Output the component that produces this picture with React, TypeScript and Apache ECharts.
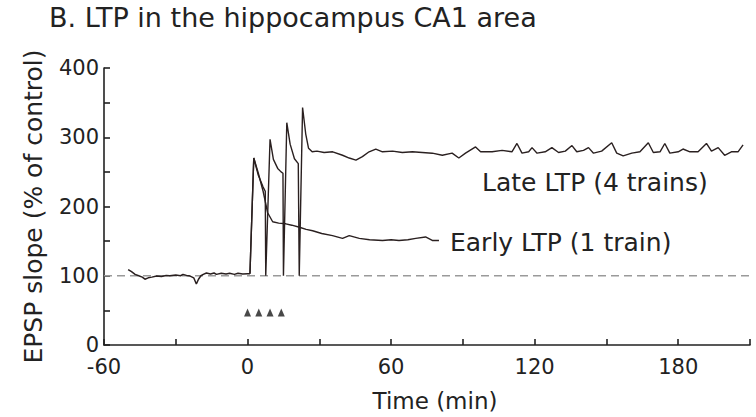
import React, { useEffect, useRef } from "react";
import * as echarts from "echarts";

// Time (min), EPSP slope (% of control)
const baselineTime = [-49.9, -48.5, -47, -45.5, -44, -42.9, -41.5, -40, -38, -36, -34, -32.5, -30, -28, -27, -25.5, -24, -22.5, -21.4, -20.5, -19.5, -18.5, -17.2, -15.5, -14, -13, -11, -9, -7.5, -5.5, -4, -2, 0, 1.0];
const baselineValue = [109, 106, 102, 100, 98, 95, 97, 98, 99.5, 99, 100.5, 100, 101, 100, 102, 100.5, 99.5, 97, 88, 95, 100, 102, 104, 102.5, 104, 102, 103.5, 102.5, 103.5, 102, 103.5, 102.5, 103, 103];

const earlyTime = [1.0, 2.6, 4.5, 6.5, 8.4, 10.5, 13, 16, 18.5, 21.7, 24.5, 27.2, 31, 35.5, 39.7, 42.5, 46.7, 51, 56.4, 60, 63.3, 67, 70.3, 74.4, 77.2, 80];
const earlyValue = [103, 270, 248, 222, 191, 178, 176, 175, 173, 170, 167, 165, 161, 158, 154, 158, 154, 152, 151, 152, 151, 152, 154, 156, 151, 151];

const lateTime = [1.0, 2.6, 4.5, 6.5, 7.4, 7.6, 7.8, 9.4, 10.8, 12.6, 14.0, 14.8, 15.0, 16.4, 17.8, 19.6, 21.2, 21.6, 21.8, 23.0, 24.3, 25.5, 27, 29, 32, 35.6, 39.7, 42.5, 45.3, 48, 50.8, 53.6, 56.4, 60.6, 64.7, 68.9, 73, 77.2, 81.4, 85.5, 88.3, 91.1, 95.3, 97.4, 102.2, 106.4, 110.5, 112.6, 114.7, 117.5, 118.9, 121, 124.4, 127.2, 130, 132.8, 135.6, 137.6, 140.4, 142.5, 144.6, 148, 152.2, 154.3, 157, 160.6, 164, 167.5, 169.6, 172.4, 174.4, 176.5, 180, 182, 184.9, 188.3, 191.8, 193.9, 196.7, 199.4, 202.2, 205, 207.1];
const lateValue = [103, 270, 245, 228, 222, 100, 100, 297, 268, 255, 250, 248, 100, 321, 290, 269, 262, 100, 100, 343, 305, 284, 279, 280, 278, 279, 274, 270, 267, 272, 279, 283, 279, 280, 278, 279, 278, 277, 274, 277, 270, 277, 286, 279, 279, 281, 279, 291, 277, 279, 285, 277, 279, 285, 278, 280, 288, 279, 281, 285, 277, 280, 292, 277, 273, 277, 279, 292, 278, 279, 291, 277, 279, 283, 279, 279, 291, 280, 285, 274, 279, 279, 289];

const controlLevel = [[-60, 100], [210, 100]];
const trainTimes = [0, 4.7, 9.4, 14.1];
const trainMarkerLevel = 47;

const xTickValues = [-60, 0, 60, 120, 180];
const yTickValues = [0, 100, 200, 300, 400];

const titleText = "B. LTP in the hippocampus CA1 area";
const lateLabel = "Late LTP (4 trains)";
const earlyLabel = "Early LTP (1 train)";

const FONT = "DejaVu Sans, Verdana, sans-serif";
const INK = "#2a2020";

export default function App() {
  const ref = useRef<HTMLDivElement>(null);
  useEffect(() => {
    if (!ref.current) return;
    const chart = echarts.init(ref.current, undefined, { renderer: "svg" });
    const zip = (t: number[], v: number[]) => t.map((x, i) => [x, v[i]]);
    chart.setOption({
      animation: false,
      backgroundColor: "#ffffff",
      textStyle: { fontFamily: FONT },
      title: {
        text: titleText,
        left: 49,
        top: 4,
        padding: 0,
        textStyle: { fontFamily: FONT, fontSize: 27, fontWeight: "normal", color: "#222" },
      },
      grid: { left: 104, right: 6, top: 68, bottom: 67, containLabel: false },
      xAxis: {
        type: "value",
        min: -60,
        max: 210,
        interval: 30,
        name: "Time (min)",
        nameLocation: "middle",
        nameGap: 44,
        nameTextStyle: { fontSize: 23, color: "#222", fontFamily: FONT, padding: [0, 0, 0, 16] },
        splitLine: { show: false },
        axisLine: { show: true, onZero: false, lineStyle: { color: "#222", width: 1.6 } },
        axisTick: { show: true, inside: true, length: 6, lineStyle: { color: "#222", width: 1.6 } },
        axisLabel: {
          fontSize: 21,
          color: "#222",
          margin: 11,
          fontFamily: FONT,
          formatter: (v: number) => (xTickValues.includes(v) ? String(v) : ""),
        },
      },
      yAxis: {
        type: "value",
        min: 0,
        max: 400,
        interval: 50,
        name: "EPSP slope (% of control)",
        nameLocation: "middle",
        nameGap: 58,
        nameTextStyle: { fontSize: 25, color: "#222", fontFamily: FONT },
        splitLine: { show: false },
        axisLine: { show: true, onZero: false, lineStyle: { color: "#222", width: 1.6 } },
        axisTick: { show: true, inside: true, length: 6, lineStyle: { color: "#222", width: 1.6 } },
        axisLabel: {
          fontSize: 21,
          color: "#222",
          margin: 5,
          fontFamily: FONT,
          formatter: (v: number) => (yTickValues.includes(v) ? String(v) : ""),
        },
      },
      series: [
        {
          type: "line",
          data: controlLevel,
          showSymbol: false,
          silent: true,
          lineStyle: { color: "#9a9a9a", width: 1.5, type: [8, 5] },
        },
        {
          type: "line",
          data: zip(baselineTime, baselineValue),
          showSymbol: false,
          lineStyle: { color: INK, width: 1.5 },
        },
        {
          type: "line",
          data: zip(earlyTime, earlyValue),
          showSymbol: false,
          lineStyle: { color: INK, width: 1.4 },
        },
        {
          type: "line",
          data: zip(lateTime, lateValue),
          showSymbol: false,
          lineStyle: { color: INK, width: 1.4 },
        },
        {
          type: "scatter",
          data: trainTimes.map((t) => [t, trainMarkerLevel]),
          symbol: "triangle",
          symbolSize: [7, 8],
          itemStyle: { color: "#1a1a1a" },
        },
      ],
      graphic: [
        {
          type: "text",
          left: 482,
          top: 170,
          style: { text: lateLabel, font: `25px ${FONT}`, fill: "#222" },
        },
        {
          type: "text",
          left: 450,
          top: 230,
          style: { text: earlyLabel, font: `25px ${FONT}`, fill: "#222" },
        },
      ],
    });
    return () => chart.dispose();
  }, []);
  return (
    <div
      ref={ref}
      style={{ position: "fixed", left: 0, top: 0, width: 756, height: 417, background: "#fff" }}
    />
  );
}
